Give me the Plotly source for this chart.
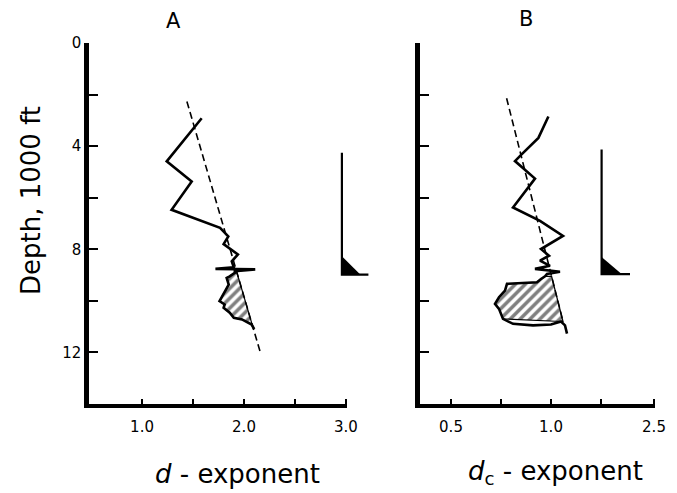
import numpy as np
import plotly.graph_objects as go

# page body adds an 8px margin around the figure
OX, OY = 8, 8
W, H = 677 - OX, 493 - OY

# ---------------- Panel A : d-exponent ----------------
a_x = [1.585, 1.242, 1.487, 1.29, 1.765, 1.846, 1.80, 1.89, 1.94, 1.88, 1.90,
       1.72, 2.11, 1.91,
       1.91, 1.86, 1.83, 1.85, 1.81, 1.78, 1.76, 1.81, 1.80, 1.86, 1.90, 1.98, 2.075, 2.10]
a_depth = [2.92, 4.59, 5.37, 6.47, 7.17, 7.50, 7.80, 8.08, 8.20, 8.47, 8.70,
           8.76, 8.78, 8.85,
           8.91, 9.05, 9.11, 9.37, 9.63, 9.88, 10.01, 10.14, 10.27, 10.46, 10.66, 10.72, 10.92, 11.10]
a_trend_x = [1.44, 2.16]
a_trend_depth = [2.27, 12.0]
a_hatch_depth = [8.91, 10.92]

# pressure sketch beside panel A
a_ind_x = [2.96, 2.96, 3.22]
a_ind_depth = [4.26, 8.98, 8.98]
a_tri_x = [2.96, 2.96, 3.14]
a_tri_depth = [8.27, 8.98, 8.98]

# ---------------- Panel B : dc-exponent ----------------
b_x = [0.987, 0.937, 0.853, 0.82, 0.92, 0.81, 0.945, 1.06, 0.95, 0.99, 0.945, 0.995,
       0.92, 1.045, 0.98,
       0.97, 0.95, 0.93, 0.78, 0.77, 0.74, 0.72, 0.74, 0.76, 0.81, 0.91, 1.00, 1.05, 1.07, 1.08]
b_depth = [2.85, 3.68, 4.32, 4.58, 5.26, 6.38, 6.90, 7.48, 7.99, 8.25, 8.44, 8.64,
           8.76, 8.87, 8.96,
           9.05, 9.15, 9.28, 9.34, 9.60, 9.86, 10.12, 10.31, 10.70, 10.89, 10.95, 10.92, 10.80, 10.95, 11.27]
b_trend_x = [0.778, 1.06]
b_trend_depth = [2.14, 10.80]
b_hatch_depth = [9.05, 10.80]

b_ind_x = [1.253, 1.253, 1.395]
b_ind_depth = [4.13, 8.96, 8.96]
b_tri_x = [1.253, 1.253, 1.353]
b_tri_depth = [8.30, 8.96, 8.96]

# axis ticks
depth_ticks = [0, 4, 8, 12]
depth_text = ["0", "4", "8", "12"]
depth_minor = [2, 6, 10]
a_xticks = [1.0, 2.0, 3.0]
a_xtext = ["1.0", "2.0", "3.0"]
a_xminor = [1.5, 2.5]
b_xticks = [0.5, 1.0, 1.515]
b_xtext = ["0.5", "1.0", "2.5"]
b_xminor = [0.75, 1.25]


def hatch_polygon(cx, cd, tx, td, bounds):
    cx = np.asarray(cx); cd = np.asarray(cd)
    m = (cd >= bounds[0] - 1e-9) & (cd <= bounds[1] + 1e-9)
    px_ = list(cx[m]); pd_ = list(cd[m])
    t_bot = float(np.interp(bounds[1], td, tx))
    t_top = float(np.interp(bounds[0], td, tx))
    px_ += [t_bot, t_top, px_[0]]
    pd_ += [bounds[1], bounds[0], pd_[0]]
    return px_, pd_


fig = go.Figure()

def add_panel(cx, cd, tx, td, hb, ix, idp, trx, trd, xa, ya, xi):
    hx, hd = hatch_polygon(cx, cd, tx, td, hb)
    fig.add_trace(go.Scatter(x=hx, y=hd, xaxis=xa, yaxis=ya, mode="lines",
                             fill="toself", fillcolor="white",
                             fillpattern=dict(shape="/", size=7, solidity=0.5,
                                              fgcolor="black", bgcolor="white"),
                             line=dict(color="black", width=1.2), hoverinfo="skip"))
    fig.add_trace(go.Scatter(x=tx, y=td, xaxis=xa, yaxis=ya, mode="lines",
                             line=dict(color="black", width=1.6, dash="7px,4px")))
    fig.add_trace(go.Scatter(x=cx, y=cd, xaxis=xa, yaxis=ya, mode="lines",
                             line=dict(color="black", width=2.6)))
    fig.add_trace(go.Scatter(x=trx, y=trd, xaxis=xi, yaxis=ya, mode="lines",
                             fill="toself", fillcolor="black",
                             line=dict(color="black", width=1)))
    fig.add_trace(go.Scatter(x=ix, y=idp, xaxis=xi, yaxis=ya, mode="lines",
                             line=dict(color="black", width=2.2)))

add_panel(a_x, a_depth, a_trend_x, a_trend_depth, a_hatch_depth,
          a_ind_x, a_ind_depth, a_tri_x, a_tri_depth, "x", "y", "x3")
add_panel(b_x, b_depth, b_trend_x, b_trend_depth, b_hatch_depth,
          b_ind_x, b_ind_depth, b_tri_x, b_tri_depth, "x2", "y2", "x2")

# screen-pixel -> paper fraction
px = lambda v: (v - OX) / W
py = lambda v: 1 - (v - OY) / H
ydom = [py(404), py(43)]
FONT = "DejaVu Sans, Verdana, sans-serif"
tickfont = dict(family=FONT, size=15, color="black")

xcommon = dict(showline=True, linewidth=4, linecolor="black", ticks="inside",
               ticklen=5, tickwidth=1.5, tickcolor="black", showgrid=False,
               zeroline=False, tickfont=tickfont, ticklabelstandoff=6,
               automargin=False, fixedrange=True)
ycommon = dict(showline=True, linewidth=4.5, linecolor="black", ticks="inside",
               ticklen=9, tickwidth=1.5, tickcolor="black", showgrid=False,
               zeroline=False, range=[14, 0], domain=ydom, tickfont=tickfont,
               tickvals=depth_ticks, ticktext=depth_text, automargin=False,
               minor=dict(tickvals=depth_minor, ticks="inside", ticklen=9,
                          tickwidth=1.5, tickcolor="black", showgrid=False),
               fixedrange=True)

def xminor(vals):
    return dict(tickvals=vals, ticks="inside", ticklen=5, tickwidth=1.5,
                tickcolor="black", showgrid=False)

a_lo = 0.48
a_scale = (347 - 89) / (3.01 - 0.48)
fig.update_layout(
    width=W, height=H, margin=dict(l=0, r=0, t=0, b=0, autoexpand=False),
    paper_bgcolor="white", plot_bgcolor="rgba(0,0,0,0)", showlegend=False,
    xaxis=dict(domain=[px(89), px(347)], range=[a_lo, 3.01], anchor="y",
               tickvals=a_xticks, ticktext=a_xtext, minor=xminor(a_xminor), **xcommon),
    yaxis=dict(anchor="x", **ycommon),
    xaxis2=dict(domain=[px(420), px(655)], range=[0.345, 1.52], anchor="y2",
                tickvals=b_xticks, ticktext=b_xtext, minor=xminor(b_xminor), **xcommon),
    yaxis2=dict(anchor="x2", showticklabels=False, **ycommon),
    xaxis3=dict(domain=[px(89), px(89 + (3.4 - a_lo) * a_scale)], range=[a_lo, 3.4],
                anchor="y", visible=False, automargin=False, fixedrange=True),
)

def note(text, x, y, size, angle=0):
    fig.add_annotation(text=text, textangle=angle, x=px(x), y=py(y),
                       xref="paper", yref="paper", xanchor="center", yanchor="middle",
                       showarrow=False, font=dict(family=FONT, size=size, color="black"))

note("Depth, 1000 ft", 31, 201, 26, -90)
note("<i>d</i> - exponent", 237, 474, 26)
note("<i>d</i><sub>c</sub> - exponent", 555, 472, 26)
note("A", 173, 21, 21)
note("B", 526, 19, 21)

fig.write_html("out.html")
